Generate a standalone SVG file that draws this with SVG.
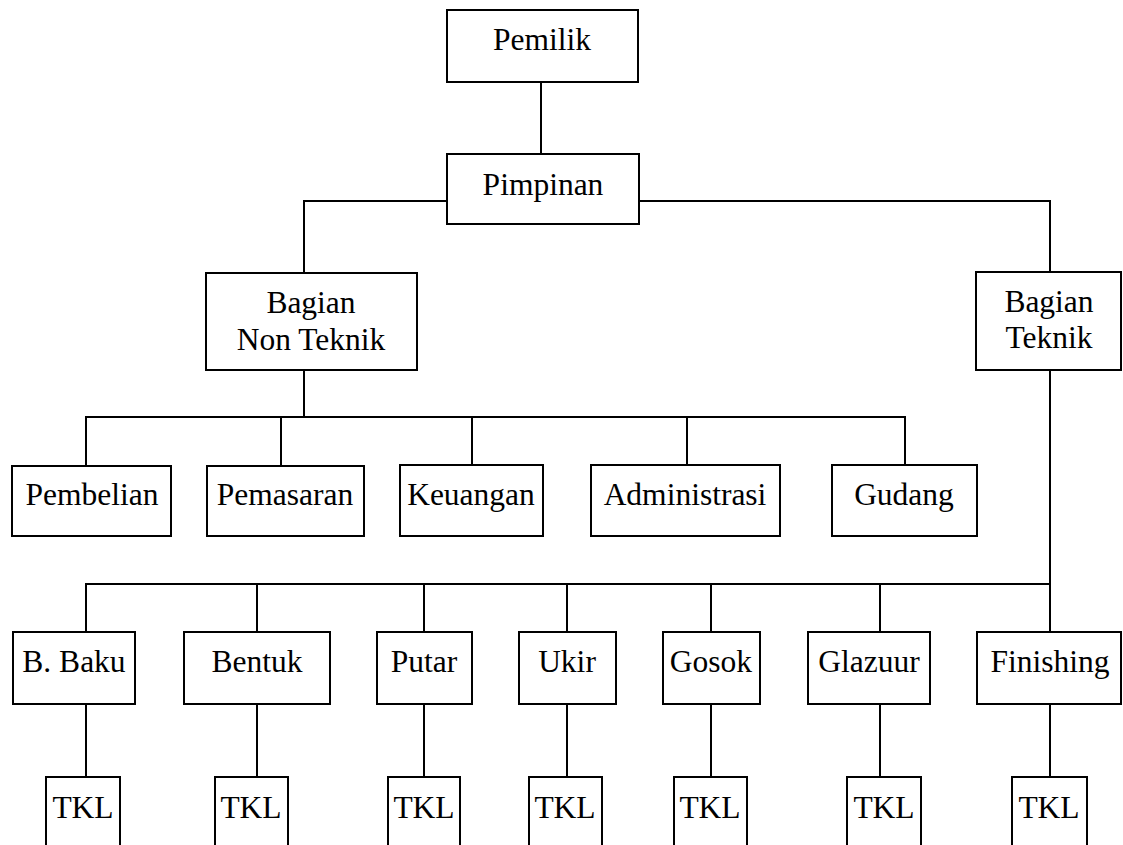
<svg xmlns="http://www.w3.org/2000/svg" width="1123" height="845" viewBox="0 0 1123 845" font-family="'Liberation Serif', 'DejaVu Serif', serif">
<style>
.box{fill:#fff;stroke:#000;stroke-width:2}
.ln{fill:none;stroke:#000;stroke-width:2}
text{font-family:'Liberation Serif','DejaVu Serif',serif;font-size:31.5px;fill:#000;text-anchor:middle}
</style>
<rect width="1123" height="845" fill="#fff"/>
<g id="connectors" class="ln">
<path d="M541 82V154"/>
<path d="M447 201H304V273"/>
<path d="M639 201H1050V272"/>
<path d="M304 370V417"/>
<path d="M86 466V417H905V465"/>
<path d="M281 417V466"/>
<path d="M472 417V465"/>
<path d="M687 417V465"/>
<path d="M1050 370V632"/>
<path d="M86 632V584H1050"/>
<path d="M257 584V632"/>
<path d="M424 584V632"/>
<path d="M567 584V632"/>
<path d="M711 584V632"/>
<path d="M880 584V632"/>
<path d="M86 704V777"/>
<path d="M257 704V777"/>
<path d="M424 704V777"/>
<path d="M567 704V777"/>
<path d="M711 704V777"/>
<path d="M880 704V777"/>
<path d="M1050 704V777"/>
</g>
<g id="pemilik"><rect class="box" x="447" y="10" width="191" height="72"/><text x="542" y="50">Pemilik</text></g>
<g id="pimpinan"><rect class="box" x="447" y="154" width="192" height="70"/><text x="543" y="195">Pimpinan</text></g>
<g id="non-teknik"><rect class="box" x="206" y="273" width="211" height="97"/><text x="311" y="313">Bagian</text><text x="311" y="350">Non Teknik</text></g>
<g id="teknik"><rect class="box" x="976" y="272" width="145" height="98"/><text x="1049" y="312">Bagian</text><text x="1049" y="348">Teknik</text></g>
<g id="pembelian"><rect class="box" x="12" y="466" width="159" height="70"/><text x="92" y="505">Pembelian</text></g>
<g id="pemasaran"><rect class="box" x="207" y="466" width="157" height="70"/><text x="285" y="505">Pemasaran</text></g>
<g id="keuangan"><rect class="box" x="400" y="465" width="143" height="71"/><text x="471" y="505">Keuangan</text></g>
<g id="administrasi"><rect class="box" x="591" y="465" width="189" height="71"/><text x="685" y="505">Administrasi</text></g>
<g id="gudang"><rect class="box" x="832" y="465" width="145" height="71"/><text x="904" y="505">Gudang</text></g>
<g id="bbaku"><rect class="box" x="13" y="632" width="122" height="72"/><text x="74" y="672">B. Baku</text></g>
<g id="bentuk"><rect class="box" x="184" y="632" width="146" height="72"/><text x="257" y="672">Bentuk</text></g>
<g id="putar"><rect class="box" x="377" y="632" width="95" height="72"/><text x="424" y="672">Putar</text></g>
<g id="ukir"><rect class="box" x="519" y="632" width="97" height="72"/><text x="567" y="672">Ukir</text></g>
<g id="gosok"><rect class="box" x="663" y="632" width="97" height="72"/><text x="711" y="672">Gosok</text></g>
<g id="glazuur"><rect class="box" x="808" y="632" width="122" height="72"/><text x="869" y="672">Glazuur</text></g>
<g id="finishing"><rect class="box" x="977" y="632" width="144" height="72"/><text x="1050" y="672">Finishing</text></g>
<g id="tkl1"><rect class="box" x="46" y="777" width="74" height="80"/><text x="83" y="818">TKL</text></g>
<g id="tkl2"><rect class="box" x="215" y="777" width="73" height="80"/><text x="251" y="818">TKL</text></g>
<g id="tkl3"><rect class="box" x="388" y="777" width="72" height="80"/><text x="424" y="818">TKL</text></g>
<g id="tkl4"><rect class="box" x="529" y="777" width="73" height="80"/><text x="565" y="818">TKL</text></g>
<g id="tkl5"><rect class="box" x="674" y="777" width="73" height="80"/><text x="710" y="818">TKL</text></g>
<g id="tkl6"><rect class="box" x="847" y="777" width="74" height="80"/><text x="884" y="818">TKL</text></g>
<g id="tkl7"><rect class="box" x="1012" y="777" width="75" height="80"/><text x="1049" y="818">TKL</text></g>
</svg>
